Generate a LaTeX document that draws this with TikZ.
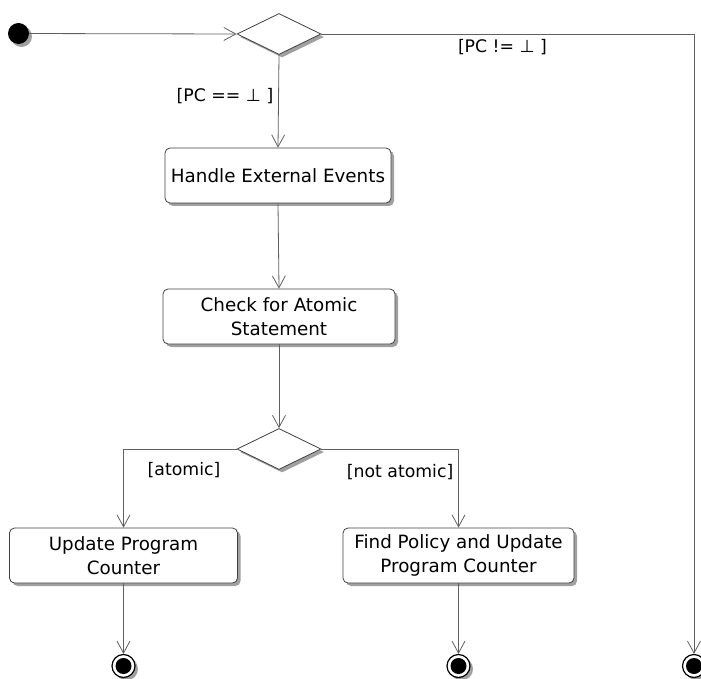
\documentclass[tikz,border=0pt]{standalone}
\usepackage{fontspec}
\setmainfont{DejaVu Sans}
\usetikzlibrary{shapes.geometric,shadows,arrows.meta}

\definecolor{edge}{HTML}{606060}
\definecolor{frame}{HTML}{404040}
\definecolor{shade}{HTML}{A0A0A0}

\tikzset{
  shadowed/.style={drop shadow={shadow xshift=3pt, shadow yshift=-3pt, fill=shade, opacity=1}},
  action/.style={draw=frame, line width=0.8pt, fill=white, rounded corners=5pt,
    align=center, inner sep=0pt, minimum height=55pt, shadowed,
    font=\fontsize{18.3}{24.5}\selectfont},
  decision/.style={diamond, draw=frame, line width=0.8pt, fill=white, inner sep=0pt,
    minimum width=84pt, minimum height=41pt, shadowed},
  initial/.style={circle, fill=black, inner sep=0pt, minimum size=21pt, shadowed},
  finalring/.style={circle, draw=black, line width=1.2pt, fill=white, inner sep=0pt,
    minimum size=23pt, shadowed},
  finaldot/.style={circle, fill=black, inner sep=0pt, minimum size=16pt},
  flow/.style={draw=edge, line width=0.8pt,
    -{Straight Barb[length=12pt, width=13pt, line width=0.8pt]}},
  guard/.style={font=\fontsize{17.3}{20}\selectfont, inner sep=0pt}
}

\begin{document}
\begin{tikzpicture}[x=1pt, y=-1pt]
  \useasboundingbox (0,0) rectangle (701,679);
  \clip (0,0) rectangle (701,679);

  % start and first decision
  \node[initial] (start) at (18.5,33.5) {};
  \node[decision] (pcTest) at (279,34) {};

  % actions
  \node[action, minimum width=226pt] (handle) at (278,175.5) {Handle External Events};
  \node[action, minimum width=232pt] (check) at (279,316.5) {Check for Atomic\\Statement};
  \node[decision] (atomTest) at (279,449) {};
  \node[action, minimum width=228pt] (update) at (123.5,555.5) {Update Program\\Counter};
  \node[action, minimum width=231pt] (policy) at (458.5,555.5) {Find Policy and Update\\Program Counter};

  % final states
  \node[finalring] (endA) at (123.5,666) {};
  \node[finaldot] (endAdot) at (endA.center) {};
  \node[finalring] (endB) at (458.5,666) {};
  \node[finaldot] (endBdot) at (endB.center) {};
  \node[finalring] (endC) at (694,666) {};
  \node[finaldot] (endCdot) at (endC.center) {};

  % control flows
  \draw[flow] (start) -- (pcTest.west);
  \draw[flow] (pcTest.east) -| (endC.north);
  \draw[flow] (pcTest.south) -- (handle.north);
  \draw[flow] (handle.south) -- (check.north);
  \draw[flow] (check.south) -- (atomTest.north);
  \draw[flow] (atomTest.west) -| (update.north);
  \draw[flow] (atomTest.east) -| (policy.north);
  \draw[flow] (update.south) -- (endA.north);
  \draw[flow] (policy.south) -- (endB.north);

  % guards
  \node[guard] (gNotNull) at (502.5,47) {[PC != ⊥ ]};
  \node[guard, anchor=east] (gNull) at (273.5,96) {[PC == ⊥ ]};
  \node[guard] (gAtomic) at (184,470) {[atomic]};
  \node[guard, anchor=east] (gNotAtomic) at (453.5,472) {[not atomic]};
\end{tikzpicture}
\end{document}
